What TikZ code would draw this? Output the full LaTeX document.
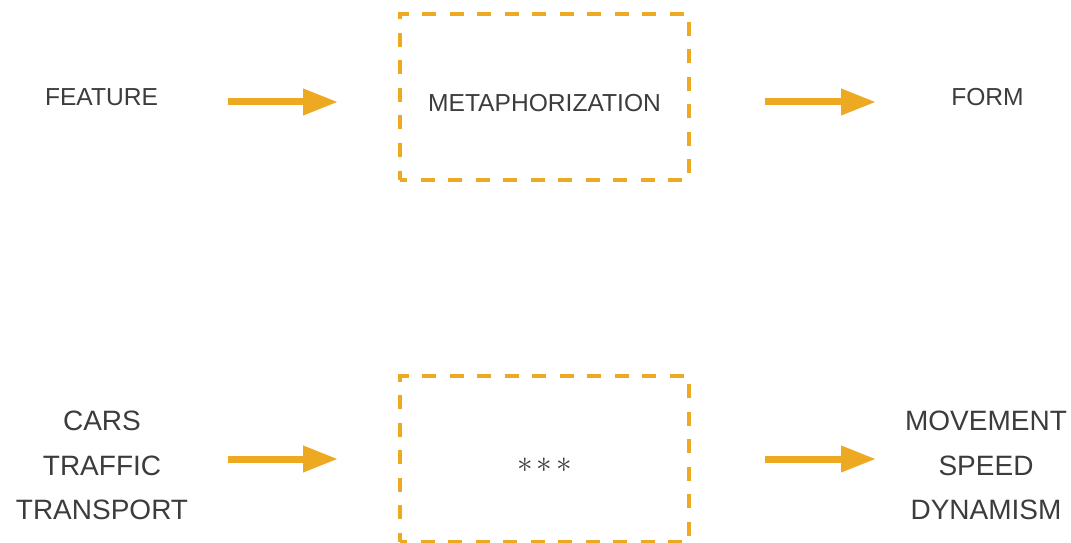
\documentclass[tikz,border=0pt]{standalone}
\usepackage{fontspec}
\setmainfont{Liberation Sans}
\definecolor{frameorange}{RGB}{238,169,35}
\definecolor{textgray}{RGB}{60,60,60}
\usepackage{tikz}
\usetikzlibrary{arrows.meta,positioning,calc}

\newcommand{\bigast}{\scalebox{1.25}{$\ast$}}

\begin{document}
\begin{tikzpicture}[x=1pt,y=1pt,
    word/.style={textgray, inner sep=0pt, align=center, font=\fontsize{24.6}{28}\selectfont},
    biglist/.style={textgray, inner sep=0pt, align=center, font=\fontsize{28}{44.5}\selectfont},
    frame/.style={draw=frameorange, line width=3.5pt, dash pattern=on 14pt off 13.5pt, dash phase=7pt,
        minimum width=289pt, minimum height=166pt, outer sep=0pt, inner sep=0pt},
    bigarrow/.style={draw=frameorange, line width=7pt, -{Triangle[length=35pt,width=25pt,fill=frameorange]}}]
    \useasboundingbox (0,0) rectangle (1071,542);
    \node[word] (feature) at (101.5,445) {FEATURE};
    \node[frame] (metabox) at (544.5,445) {};
    \node[word] (metatext) at ([yshift=-6pt]metabox.center) {METAPHORIZATION};
    \node[word] (form) at (987.5,445) {FORM};
    \draw[bigarrow] ([xshift=-172pt,yshift=-5pt]metabox.west) -- ([xshift=-62pt,yshift=-5pt]metabox.west);
    \draw[bigarrow] ([xshift=76pt,yshift=-5pt]metabox.east) -- ([xshift=187pt,yshift=-5pt]metabox.east);

    \node[biglist] (sources) at (102,76.5) {CARS\\TRAFFIC\\TRANSPORT};
    \node[frame] (blankbox) at (544.5,83) {};
    \node[textgray, inner sep=0pt, font=\fontsize{23.5}{28}\selectfont] (stars) at ([yshift=-6pt]blankbox.center)
        {\bigast\hspace{4pt}\bigast\hspace{4pt}\bigast};
    \node[biglist] (results) at (986,76.5) {MOVEMENT\\SPEED\\DYNAMISM};
    \draw[bigarrow] ([xshift=-172pt]blankbox.west) -- ([xshift=-62pt]blankbox.west);
    \draw[bigarrow] ([xshift=76pt]blankbox.east) -- ([xshift=187pt]blankbox.east);
\end{tikzpicture}
\end{document}
